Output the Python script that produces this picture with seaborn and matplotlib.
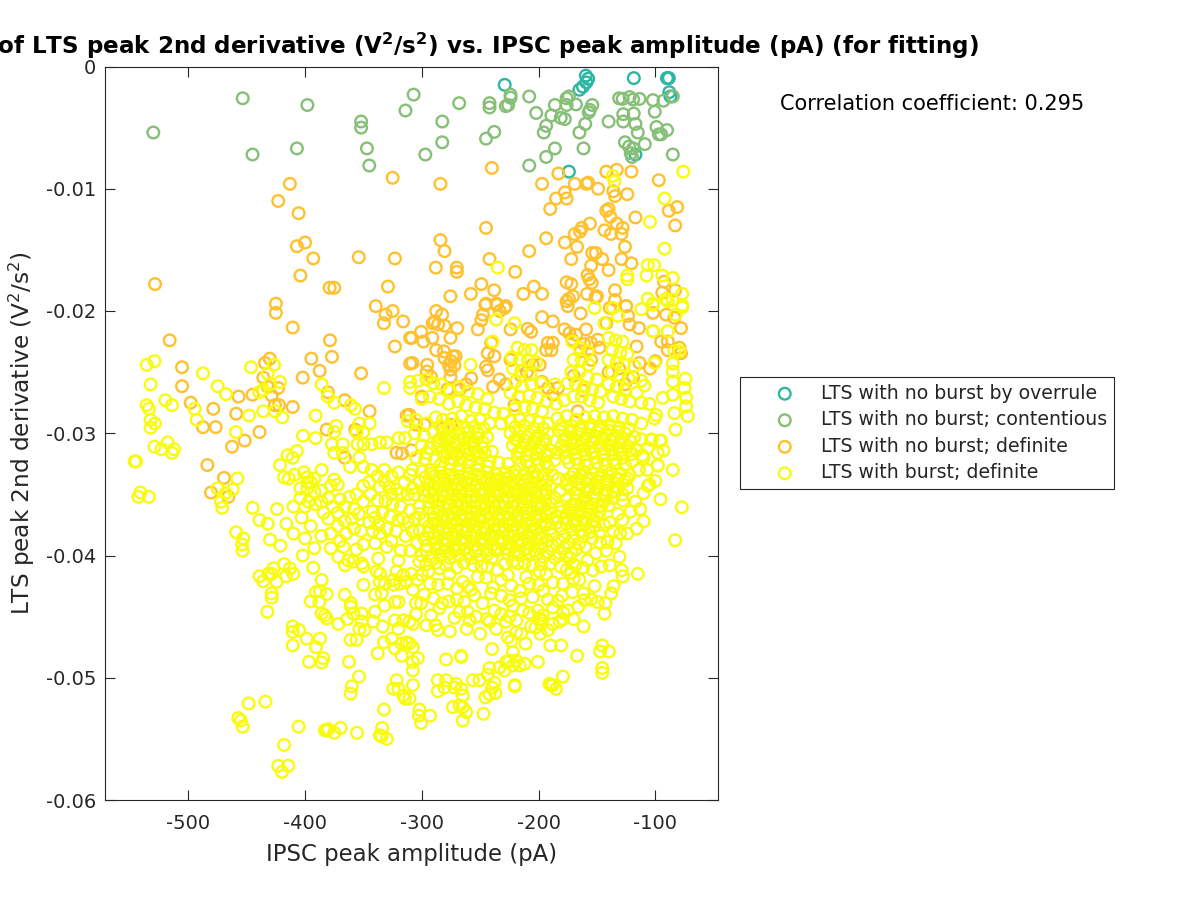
import numpy as np
import matplotlib
matplotlib.use("Agg")
import matplotlib.pyplot as plt
import seaborn as sns

# (IPSC peak amplitude in pA, LTS peak 2nd derivative in thousandths of V^2/s^2)
overrule = [(-229,-1.5),(-159.5,-.75),(-157.5,-1.0),(-159,-1.3),(-162,-1.65),(-165,-1.9),(-118.4,-.95),(-89.3,-.95),
 (-88.4,-.95),(-90,-.95),(-88,-2.1),(-87,-2.45),(-117,-7.2),(-174,-8.6)]

contentious = [(-453.4,-2.6),(-398,-3.15),(-530,-5.4),(-352,-4.5),(-352,-5.0),(-314,-3.6),(-445,-7.2),(-407,-6.7),(-347,-6.7),
 (-345,-8.1),(-307,-2.3),(-268,-3.0),(-242,-3.0),(-242,-3.35),(-224,-2.3),(-224,-2.55),(-226,-3.15),(-228,-3.25),(-208,-2.45),
 (-202,-3.8),(-282.5,-4.5),(-282.5,-6.2),(-297,-7.2),(-245,-5.9),(-238,-5.35),(-208,-8.1),(-193.5,-7.4),(-186,-6.7),(-161.5,-6.7),
 (-195.5,-5.4),(-193.5,-4.85),(-189,-4.0),(-186,-3.15),(-181,-4.2),(-177.5,-4.3),(-176,-3.15),(-176,-2.6),(-174,-2.45),(-168,-3.1),
 (-154,-3.15),(-156,-3.55),(-157,-3.75),(-160,-4.7),(-165,-5.4),(-140,-4.5),(-131,-2.6),(-128,-2.65),(-122,-2.5),(-119,-2.7),
 (-113.5,-2.65),(-127.5,-3.9),(-118.5,-3.85),(-127.5,-4.5),(-117,-4.7),(-115,-5.4),(-102,-2.75),(-100.5,-3.7),(-93,-2.8),(-85,-2.45),
 (-99,-4.95),(-97,-5.55),(-95,-5.55),(-90,-5.2),(-109,-6.35),(-126,-6.2),(-122.5,-6.55),(-119,-6.7),(-121,-7.1),(-120,-7.4),(-85,-7.2)]

no_burst = [(-325,-9.1),(-413,-9.6),(-423,-11.0),(-405.5,-12.0),(-400,-14.4),(-407,-14.7),(-393,-15.7),(-354,-15.6),(-323,-15.7),
 (-404,-17.1),(-528.5,-17.8),(-379,-18.1),(-375,-18.1),(-329,-18.0),(-425,-19.4),(-339.5,-19.6),(-284,-9.6),(-240,-8.3),(-197,-9.6),
 (-183,-8.75),(-142,-8.6),(-133,-8.45),(-120.5,-8.6),(-97,-9.3),(-169,-9.6),(-159,-9.6),(-157.5,-9.5),(-149,-10),(-136,-10.2),
 (-134.5,-10.6),(-124,-10.45),(-177.5,-10.3),(-185,-10.8),(-176,-10.8),(-190,-11.65),(-142,-11.8),(-140,-11.65),(-138.5,-12.3),
 (-88.5,-11.8),(-81.3,-11.5),(-117,-12.35),(-83,-13),(-245,-13.2),(-156,-12.85),(-163,-13.2),(-164.5,-13.5),(-169,-13.7),(-143.5,-13.4),
 (-138,-13.7),(-133,-12.85),(-128,-13.2),(-129,-13.7),(-193.5,-14.05),(-177.5,-14.4),(-167,-14.75),(-284,-14.2),(-280.5,-15.1),
 (-126,-14.75),(-208,-15.1),(-242,-15.75),(-220,-16.8),(-154,-15.25),(-151,-15.25),(-145.5,-15.75),(-129,-15.75),(-120.5,-16.1),
 (-172,-15.75),(-288,-16.45),(-270,-16.45),(-270,-16.8),(-155,-16.3),(-158,-17.05),(-156.5,-17.4),(-154.5,-17.7),(-140,-16.65),
 (-176,-17.65),(-172,-17.8),(-249,-17.8),(-204,-18),(-213,-18.6),(-197,-18.6),(-238,-18.3),(-258,-18.6),(-275.5,-18.8),(-134.5,-18.3),
 (-158.5,-18.6),(-151,-18.8),(-151,-18.9),(-150,-18.8),(-134.5,-19.1),(-125,-19.6),(-83,-18.3),(-94,-18.5),(-92.5,-17.6),(-170.5,-18.8),
 (-174,-19),(-176,-19.2),(-245,-19.4),(-236,-19.4),(-228,-19.6),(-425,-20.15),(-410.6,-21.35),(-331,-20.3),(-325,-20),(-332.5,-21),
 (-316,-20.85),(-323,-22.9),(-310,-22.2),(-310,-24.3),(-516,-22.4),(-378.7,-22.4),(-377,-23.75),(-394.6,-23.9),(-387.5,-24.9),
 (-402,-25.45),(-352,-25.1),(-505.4,-24.6),(-505.4,-26.15),(-430.3,-23.9),(-434.3,-24.25),(-435.8,-25.45),(-432,-26.2),(-423,-26.3),
 (-428.6,-26.9),(-425.8,-27.7),(-422.3,-27.7),(-410.6,-27.85),(-445,-26.85),(-457,-27),(-498,-27.5),(-478.6,-28),(-459,-28.4),
 (-487.4,-29.5),(-476.6,-29.5),(-439,-29.9),(-451.7,-30.6),(-462.6,-31.1),(-483.7,-32.6),(-469.4,-33.65),(-480.6,-34.85),(-465.7,-35.2),
 (-380.4,-26.65),(-366,-27.3),(-344.7,-28.2),(-381.5,-29.7),(-357,-29.7),(-321.6,-31.6),(-317,-31.65),(-366,-32),(-313,-28.55),
 (-287.7,-20),(-282.6,-20.3),(-289,-20.85),(-286,-21.1),(-290.6,-21),(-280.6,-21.2),(-269.7,-21.4),(-300.6,-21.7),(-291,-22.2),
 (-298.6,-22.5),(-308.6,-22.2),(-275.4,-22.2),(-287.7,-23.2),(-281,-23.3),(-280.6,-23.85),(-273.4,-23.7),(-274.9,-24.1),(-271,-23.7),
 (-276.9,-24.4),(-272,-24.45),(-275.4,-24.8),(-275.4,-25.4),(-308,-24.25),(-295.4,-24.4),(-295.7,-24.95),(-292,-25.4),(-257.7,-25.5),
 (-262,-26),(-267.7,-26.45),(-245.5,-19.5),(-235.8,-19.5),(-247.7,-20.3),(-249,-20.75),(-229,-19.75),(-233.3,-20),(-252,-21.5),
 (-224,-21.5),(-209.3,-21.45),(-206.4,-21.7),(-197,-20.5),(-187.8,-20.85),(-177.8,-21.5),(-173.5,-21.8),(-167.8,-21.95),(-171,-22.35),
 (-175,-19.6),(-164,-20.2),(-161,-22.7),(-164,-23.3),(-240.6,-22.6),(-243.5,-23.45),(-237.8,-23.7),(-245,-24.55),(-243.5,-24.85),
 (-233.5,-25.6),(-239,-26.2),(-192,-22.6),(-187.8,-22.6),(-189,-23.2),(-193.5,-23.2),(-224,-24),(-205,-24.4),(-199,-24.4),(-155,-22.6),
 (-149.3,-22.35),(-159.3,-21.5),(-142,-21),(-139,-19.75),(-125,-19.6),(-123.3,-20.4),(-122,-21.1),(-114,-21.4),(-116,-22.9),(-113.5,-24.25),
 (-119,-25.4),(-104.5,-24.7),(-100,-24.1),(-102,-20.15),(-102,-21.65),(-95,-22.5),(-89.3,-22.5),(-89.3,-23.2),(-79.3,-23),(-78,-23.45),
 (-83.7,-20.55),(-78,-21.4),(-90.7,-20.3),(-220.6,-27.7),(-187.8,-26.85),(-192,-26.3),(-183.5,-26.3),(-166.4,-28.2),(-297.7,-29.3),
 (-282,-29.6),(-275,-29.3),(-304.9,-29.3),(-309,-31.4),(-310.6,-28.5),(-140,-25),(-155,-24),(-148,-23),(-131,-24.7),(-126,-26),
 (-210,-25),(-215,-25.3),(-228,-26),(-197,-25.8),(-278,-26.4),(-300,-27),(-170,-25.3),(-162,-26.5)]

burst_sparse = [(-235,-16.45),(-76,-8.6),(-136.5,-8.95),(-135,-9.4),(-92,-10.8),(-104.5,-12.7),(-92,-14.9),(-106.5,-16.25),(-101,-16.25),
 (-124,-17.1),(-124,-17.4),(-107.5,-17.1),(-94,-17.1),(-85,-17.3),(-77,-18.6),(-106.5,-19),(-91,-19),(-85,-19.1),(-102,-19.4),(-77,-19.5),
 (-529,-24.1),(-535.7,-24.4),(-532.3,-26),(-535.7,-27.7),(-533.7,-28),(-532.3,-28.9),(-528.6,-29.2),(-532.3,-29.55),(-519.7,-27.3),(-514,-27.7),
 (-529,-31.1),(-523,-31.3),(-517.7,-30.75),(-512.3,-31.3),(-514,-31.6),(-546,-32.3),(-544.8,-32.3),(-541,-34.85),(-542.8,-35.2),(-533.7,-35.2),
 (-487.4,-25.1),(-474.9,-26.15),(-467.7,-26.8),(-494.6,-28),(-492.9,-28.9),(-446.3,-24.6),(-426.6,-24.4),(-432,-25.1),(-421.5,-25.8),(-430,-26),
 (-435.8,-26.45),(-439.2,-26.65),(-435.8,-28.2),(-448,-28.55),(-425.8,-28.2),(-419.5,-28.7),(-459.2,-29.9),(-401.8,-30.2),(-391,-30.4),(-391,-28.55),
 (-385.8,-26),(-380.4,-27),(-375,-27.5),(-360.7,-27.7),(-357.3,-28),(-332.4,-26.3),(-310,-26.3),(-353.5,-29.2),(-344.7,-29.2),(-350,-29.9),
 (-355.8,-29.9),(-373.2,-29.4),(-375,-29.9),(-377,-30.9),(-367.8,-30.9),(-375,-31.6),(-367.8,-31.6),(-355,-30.9),(-350,-30.9),(-343,-30.9),
 (-335.8,-30.75),(-330,-30.75),(-319.6,-30.4),(-314.4,-30.4),(-415,-31.8),(-410.6,-32),(-407,-31.45),(-421.5,-32.6),(-385.8,-33),(-375,-33.8),
 (-353.5,-32),(-350,-32.75),(-361.5,-32.75),(-343,-33),(-475,-34.5),(-472,-35.6),(-471,-36.1),(-468,-34.9),(-462,-34.6),(-458,-33.7),(-445,-36.1),
 (-459,-38.1),(-453,-38.6),(-454,-39.1),(-439,-37.1),(-432,-37.4),(-418,-33.6),(-414,-33.7),(-409,-33.4),(-401,-33.2),(-398,-33.6),(-395,-34),
 (-404,-34.5),(-398,-34.5),(-392,-34.8),(-404,-35.3),(-397,-35.6),(-391,-35.8),(-386,-34.7),(-378,-34.3),(-372,-34.2),(-380,-35.3),(-370,-35.4),
 (-376,-36),(-384,-36.5),(-362,-35.2),(-356,-35),(-350,-34.3),(-345,-34),(-338,-33.5),(-332,-33),(-326,-33.5),(-320,-33.2),(-336,-34.4),(-328,-34.4),
 (-322,-34.6),(-315,-34),(-310,-33.4),(-312,-35),(-338,-35.5),(-331,-35.5),(-325,-35.8),(-318,-36),(-310,-36.3),(-342,-36.4),(-334,-36.5),(-327,-36.8),
 (-320,-37.1),(-312,-37.3),(-345,-37.3),(-337,-37.5),(-330,-37.8),(-322,-38),(-314,-38.4),(-354,-36.6),(-360,-37),(-366,-37.2),(-372,-37.6),(-358,-37.8),
 (-352,-38),(-365,-38.2),(-378,-38.2),(-386,-38.4),(-395,-37.6),(-403,-36.9),(-410,-36),(-416,-37.4),(-410,-38.2),(-400,-38.6),(-424,-36.2),(-430,-38.7),
 (-421,-39.2),(-392,-39.4),(-378,-39.4),(-367,-39.3),(-350,-39.1),(-340,-39),(-330,-39.3),(-318,-39.6),(-310,-39.6),
 (-453.5,-39.6),(-439,-41.7),(-435.8,-42.1),(-431.5,-41.5),(-427,-41.05),(-428.6,-41.5),(-424.3,-42.15),(-418,-40.7),(-416.3,-41.7),(-413,-41.05),(-410,-41.5),
 (-428.6,-43.1),(-428.6,-43.45),(-432.3,-44.6),(-393,-41),(-402,-40),(-385.8,-42),(-390.7,-43),(-387.2,-42.9),(-381.5,-43.15),(-395.2,-43.75),(-387.8,-43.8),
 (-385.8,-44.75),(-383,-44.9),(-381.5,-45.15),(-366,-43.2),(-360.7,-43.9),(-360.7,-44.2),(-350,-42.4),(-371.5,-45.6),(-363.8,-45.2),(-358.7,-44.75),(-351.5,-44.75),
 (-351.5,-45.4),(-340,-44.6),(-341.5,-45.4),(-333.5,-45.8),(-353.5,-46),(-349,-46.1),(-361,-46.9),(-355.8,-46.9),(-332.4,-47.1),(-337.8,-48),(-387.2,-46.8),
 (-398.6,-46.8),(-390.7,-47.5),(-384.4,-48.4),(-385.8,-48.75),(-396.7,-48.7),(-362.4,-48.7),(-410.6,-45.8),(-410.6,-46.25),(-405.2,-46.1),(-410.6,-47.35),
 (-353.8,-49.9),(-360,-50.7),(-361,-51.3),(-321.6,-50.2),(-320,-50.9),(-324.4,-50.9),(-315.8,-51.45),(-314.4,-51.7),(-332.4,-52.6),(-448.3,-52.1),(-434,-51.95),
 (-457.2,-53.3),(-455,-53.5),(-453.5,-54),(-405.5,-54),(-381.5,-54.3),(-383,-54.3),(-380,-54.2),(-375,-54.5),(-369.5,-54.1),(-355.5,-54.5),(-334,-54.1),(-336,-54.7),
 (-334.4,-54.8),(-330,-55),(-418,-55.5),(-423,-57.2),(-414.4,-57.2),(-419.8,-57.7),(-371.5,-40.1),(-365.8,-40.8),(-363,-40.4),(-358.7,-40.5),(-350,-40.9),(-351.5,-40.65),
 (-337.3,-40.25),(-338.7,-41.3),(-335.8,-41.5),(-320,-40.4),(-321.6,-41.3),(-324.4,-42),(-318.7,-42.3),(-315.8,-41.6),(-313,-42.15),(-324,-42.4),(-336,-42.15),
 (-331.6,-42.3),(-340,-43.2),(-334.4,-43.1),(-332,-44.1),(-323,-43.8),(-320,-43.8),(-323,-45.3),(-315.8,-45.3),(-320,-46),(-325.8,-46.8),(-317.3,-47.2),(-323,-47.6),
 (-313,-47.1),(-317.3,-48.2),(-310.6,-47.2),(-307.7,-47.5),(-303.4,-48.4),(-307.7,-48.7),(-307.7,-49.4),(-307.7,-50.6),(-310.6,-51.7),(-307.7,-45.6),(-310.6,-45.4),
 (-304.9,-43.9),(-300.6,-43.9),(-307.7,-42.8),(-309,-41.5),(-292,-44.9),(-288.3,-45.7),(-286.3,-46.1),(-282.6,-43.9),(-276.9,-43.75),(-284.9,-44.3),(-272,-45.1),
 (-267.7,-44.6),(-260.6,-44.6),(-259,-45.3),(-261.5,-46),(-253.5,-45),(-244.3,-45.2),(-236.3,-46),(-279.2,-48.5),(-266.3,-48.3),(-266.3,-48.2),(-239.8,-47.65),
 (-286.3,-50.2),(-279.2,-50.2),(-286.3,-51.1),(-280.6,-50.8),(-270.6,-50.5),(-266.3,-50.9),(-264.9,-51.45),(-272,-50.8),(-256.3,-50.2),(-250.6,-50.2),(-242,-49.2),
 (-243.5,-49.75),(-237.8,-50.4),(-239.8,-50.8),(-245.5,-51.6),(-242,-51.35),(-237,-51.25),(-220.4,-50.6),(-220.4,-50.7),(-247.2,-52.95),(-273.4,-52.4),(-267.7,-52.25),
 (-264.9,-52.4),(-262,-52.8),(-264.9,-53.5),(-302,-52.6),(-302.6,-53.1),(-292.9,-53.1),(-300.6,-53.7),(-233.5,-49.15),(-227.8,-48.7),(-229.2,-49.4),(-219.2,-48.6),
 (-216.3,-49),(-222,-49),(-225,-48.6),(-212,-48.85),(-200.6,-48.7),(-222,-47.9),(-226.3,-46.7),(-223.5,-47),(-215,-46.4),(-211.2,-47.2),(-219.2,-46.3),(-189.8,-47.35),
 (-180.7,-47.35),(-167,-48.2),(-179.2,-49.9),(-187.8,-50.6),(-189.2,-50.6),(-185,-50.9),(-190.7,-50.5),(-145.5,-47.35),(-147.2,-47.85),(-139.8,-47.85),(-145.5,-49.2),
 (-145.5,-49.6),(-161.5,-45.8),(-115,-41.5),(-130.7,-40.1),(-128.7,-41.2),(-127.8,-41.7),(-135.8,-42.5),(-137.8,-43.1),(-143.5,-44.75),(-142.7,-43.9),(-149.3,-43.8),
 (-155,-43.6),(-160.7,-43.65),(-161.5,-43.1),(-152,-42.5),(-162,-41),(-165,-42),(-168.7,-40.8),(-153.5,-41.2),(-146.4,-40.9),(-139,-40.8),(-142,-39.6),(-179.2,-45.2),
 (-182,-45.4),(-187.8,-45.6),(-178.7,-44.7),(-183.5,-43.7),(-187.8,-44.25),(-197.8,-45.2),(-196.4,-44.9),(-200.6,-44.5),(-199.2,-45.2),(-197.8,-45.6),(-202.6,-45.9),
 (-198.6,-46.4),(-206.4,-45.8),(-224.9,-43.65),(-222,-44.1),(-213.5,-44.5),(-237.8,-44.5),(-240.6,-43.1),(-254.9,-43.25),(-263.5,-43.8),(-257.7,-42.8),(-239,-42.6),
 (-223.5,-42.45),(-207.8,-42.3),(-210.6,-41.75),(-193.5,-41.5),(-187.8,-42.2),(-179.2,-42.3),(-292.9,-42.3),(-294.3,-41.3),(-284.9,-41.05),(-276.3,-41.5),(-277.8,-42.3),
 (-252,-41.75),(-260.6,-42.55),(-264.9,-42.15),(-226.3,-41.6),(-217.8,-40.65),(-199.2,-41.3),(-224.9,-45),(-228,-45.4),(-219,-45.3),(-242,-45.4),(-205,-43.4),(-192,-43.6),
 (-171,-43),(-175,-44.5),(-170,-41.9),(-300,-41.6),(-302,-40.5),(-270,-41),(-244,-40.9),(-235,-41.2),(-229,-40.7),(-205,-40.8),(-181,-40.9),(-173,-40.2),(-158,-40.4),(-151,-39.8),
 (-134,-39),(-130,-38.2),(-128,-37.1),(-136,-38),(-141,-38.9),(-147,-39),(-139,-37.3),(-132,-36.6),(-121,-36.4),(-117,-35.6),(-113,-36.2),(-110,-37.2),(-116,-37.8),(-124,-38.2),
 (-105,-34.2),(-100,-33.9),(-96,-30.6),(-93,-31.4),(-103,-30.5),(-98,-32.6),(-110,-34.9),(-107,-33),(-111,-31.8),
 (-83.6,-23.3),(-79.3,-23.3),(-85,-24.3),(-85,-24.95),(-74.2,-25.55),(-85,-25.75),(-75,-26.3),(-85,-26.85),(-73.6,-27.1),(-93.6,-27.1),(-109.3,-26.1),(-73.6,-27.8),(-83.6,-28.35),
 (-72.2,-28.6),(-82.7,-29.7),(-99.3,-28.5),(-100.7,-28.8),(-103.6,-30.55),(-95,-30.6),(-97.9,-31.6),(-106.4,-31.2),(-85,-33),(-97.9,-32.65),(-106.4,-34.3),(-95.6,-35.4),(-77.3,-36.05),
 (-83,-38.75),(-236.3,-20.7),(-220.6,-21),(-239.4,-22.5),(-258.3,-24.4),(-152,-19.75),(-136.4,-19.75),(-132,-20.4),(-143.5,-21),(-112,-19.85),(-102,-19.5),(-89.3,-19.2),(-77,-19.7),
 (-82.6,-20.3),(-102,-21.65),(-89.3,-21.65),(-100.7,-24.25)]

burst_clusters = [(-140,-22.2),(-134,-22.4),(-128,-22.5),(-137,-23.2),(-130,-23.4),(-124,-23.5),(-140,-24),(-133,-24.2),(-127,-24.4),(-118,-24.5),(-137,-25),(-130,-25.3),(-123,-25.5),(-112,-25.7),
 (-140,-26),(-133,-26.2),(-126,-26.5),(-116,-26.7),(-136,-27),(-129,-27.2),(-122,-27.4),(-112,-27.5),(-105,-27.6),(-171,-22.5),(-165,-23),(-158,-23.3),(-170,-24),(-163,-24),(-157,-24.4),
 (-172,-25),(-165,-25),(-158,-25.4),(-150,-25.6),(-175,-25.9),(-168,-26),(-161,-26.2),(-154,-26.4),(-147,-26.6),(-170,-27),(-163,-27),(-156,-27.3),(-149,-27.5),(-178,-27.3),(-186,-26),
 (-218,-23),(-212,-23.2),(-206,-23.2),(-223,-23.8),(-216,-24),(-209,-24),(-202,-24.2),(-222,-24.7),(-215,-24.9),(-207,-25.2),(-220,-25.8),(-214,-26.2),(-206,-26),(-198,-25.9),(-224,-26.7),
 (-217,-27),(-208,-26.9),(-201,-27.1),(-193,-27.4),(-185,-27.6),(-220,-28),(-212,-27.9),(-205,-28),(-197,-28.2),(-310,-25.8),(-303,-25.7),(-296,-25.6),(-290,-25.9),(-283,-26),(-276,-26.5),
 (-268,-26.2),(-260,-26.6),(-252,-26.8),(-244,-27.2),(-300,-27.2),(-293,-27),(-285,-27.2),(-277,-27.6),(-269,-27.4),(-262,-27.7),(-254,-27.9),(-246,-28),(-238,-28.3),(-230,-28.4)]

burst_band_upper = [(-312,-29),(-305,-28.9),(-296,-29.2),(-288,-28.7),(-282,-28.9),(-274,-28.8),(-266,-28.6),(-258,-29),(-250,-28.9),(-242,-29.2),(-232,-29.2),(-224,-29),(-216,-28.9),(-208,-29),(-200,-29.1),
 (-192,-29.2),(-184,-28.8),(-176,-28.6),(-168,-28.9),(-160,-28.7),(-152,-28.6),(-144,-28.7),(-136,-28.6),(-128,-28.8),(-120,-28.9),(-112,-29.2),(-306,-30),(-298,-30.2),(-290,-29.9),(-282,-30),
 (-275,-30.2),(-268,-30),(-260,-29.9),(-252,-30),(-244,-30.3),(-224,-30),(-216,-29.9),(-208,-30.1),(-200,-30.2),(-192,-30),(-182,-29.8),(-174,-29.9),(-166,-30),(-158,-30.1),(-150,-29.9),
 (-142,-30),(-134,-30.2),(-126,-30),(-118,-30.3),(-112,-30.5),(-300,-31),(-293,-31.2),(-286,-31),(-278,-31.1),(-271,-31),(-264,-31.2),(-256,-31),(-248,-31.2),(-240,-31.5),(-222,-31),(-214,-31.2),
 (-206,-31),(-198,-31.1),(-190,-31.4),(-180,-31),(-172,-30.9),(-164,-31.1),(-156,-31.2),(-148,-31),(-140,-31),(-132,-31.2),(-124,-31.1),(-116,-31.4),(-110,-32),(-305,-32),(-297,-32.1),(-289,-32.2),
 (-281,-31.9),(-273,-32.1),(-266,-32),(-258,-32.2),(-250,-32),(-242,-32.3),(-234,-32.4),(-226,-32.5),(-218,-32),(-210,-32.3),(-202,-32.1),(-194,-32.4),(-186,-32.2),(-176,-32),(-168,-32.1),(-160,-32.3),
 (-152,-32),(-144,-32.2),(-136,-32.2),(-128,-32),(-120,-32.3),(-114,-33),
 (-284,-29.4),(-277,-29.5),(-270,-29.3),(-263,-29.5),(-255,-29.5),(-247,-29.6),(-220,-29.5),(-212,-29.4),(-204,-29.6),(-196,-29.6),(-180,-29.3),(-172,-29.4),(-163,-29.4),(-155,-29.3),(-147,-29.4),
 (-139,-29.3),(-131,-29.5),(-123,-29.6),(-286,-30.6),(-279,-30.5),(-272,-30.7),(-264,-30.5),(-256,-30.6),(-248,-30.7),(-220,-30.5),(-212,-30.6),(-204,-30.7),(-196,-30.5),(-178,-30.5),(-170,-30.4),
 (-162,-30.6),(-154,-30.6),(-146,-30.5),(-138,-30.6),(-130,-30.7),(-122,-30.6),(-296,-31.6),(-282,-31.5),(-275,-31.6),(-268,-31.5),(-260,-31.7),(-252,-31.6),(-218,-31.6),(-210,-31.7),(-202,-31.6),
 (-194,-31.8),(-184,-31.6),(-176,-31.5),(-168,-31.6),(-160,-31.7),(-152,-31.6),(-144,-31.6),(-136,-31.7),(-128,-31.6),(-120,-31.7)]

burst_band_core = [(-308,-33),(-300,-33.1),(-292,-33),(-284,-33.2),(-276,-33),(-268,-33.1),(-260,-33.3),(-252,-33),(-244,-33.2),(-236,-33.4),(-228,-33.2),(-220,-33.1),(-212,-33.3),(-204,-33.2),(-196,-33.4),(-188,-33.4),
 (-170,-33.3),(-162,-33.1),(-154,-33.3),(-146,-33.4),(-138,-33.2),(-130,-33.3),(-122,-33.4),(-302,-34),(-294,-34.2),(-286,-34),(-278,-34.1),(-270,-34.2),(-262,-34),(-254,-34.2),(-246,-34),(-238,-34.2),
 (-230,-34),(-222,-34.1),(-214,-34.3),(-206,-34),(-198,-34.2),(-190,-34.4),(-172,-34.4),(-164,-34.2),(-156,-34.4),(-148,-34.4),(-140,-34.2),(-132,-34.4),(-124,-34.5),(-306,-35),(-298,-35.1),(-290,-35),
 (-282,-35.2),(-274,-35),(-266,-35.1),(-258,-35.2),(-250,-35),(-242,-35.1),(-234,-35),(-226,-35.2),(-218,-35),(-210,-35.1),(-202,-35.2),(-194,-35),(-186,-35.3),(-176,-35.4),(-168,-35.5),(-160,-35.3),
 (-152,-35.4),(-144,-35.5),(-136,-35.3),(-128,-35.5),(-302,-36),(-294,-36.1),(-286,-36),(-278,-36.2),(-270,-36),(-262,-36.1),(-254,-36),(-246,-36.2),(-238,-36),(-230,-36.1),(-222,-36),(-214,-36.2),
 (-206,-36),(-198,-36.1),(-190,-36.2),(-180,-36.4),(-172,-36.5),(-164,-36.4),(-156,-36.6),(-148,-36.5),(-306,-37),(-298,-37.1),(-290,-37),(-282,-37.2),(-274,-37),(-266,-37.1),(-258,-37),(-250,-37.2),
 (-242,-37),(-234,-37.1),(-226,-37),(-218,-37.2),(-210,-37),(-202,-37.1),(-194,-37.3),(-184,-37.3),(-176,-37.4),(-168,-37.5),(-160,-37.4),(-152,-37.6),(-144,-37.5),(-302,-38),(-294,-38.1),(-286,-38),
 (-278,-38.2),(-270,-38),(-262,-38.1),(-254,-38),(-246,-38.2),(-238,-38),(-230,-38.1),(-222,-38),(-214,-38.2),(-206,-38),(-198,-38.2),(-188,-38.3),(-178,-38.4),(-170,-38.5),(-162,-38.4),(-154,-38.6),
 (-304,-39),(-296,-39.2),(-288,-39),(-280,-39.1),(-272,-39.2),(-264,-39),(-256,-39.2),(-248,-39),(-240,-39.2),(-232,-39),(-224,-39.1),(-216,-39.2),(-208,-39),(-198,-39.3),(-188,-39.2),(-178,-39.4),
 (-168,-39.5),(-160,-39.3),(-300,-40),(-292,-40.1),(-284,-40),(-276,-40.2),(-268,-40),(-258,-40.2),(-250,-40),(-240,-40.2),(-226,-39.9),(-216,-40),(-208,-39.9),(-196,-40.1),(-186,-40.2),(-176,-40)]

burst_band_fill = [(-297,-33.6),(-289,-33.5),(-281,-33.7),(-273,-33.6),(-265,-33.5),(-257,-33.8),(-249,-33.6),(-241,-33.7),(-233,-33.7),(-225,-33.6),(-217,-33.8),(-209,-33.7),(-201,-33.6),(-193,-33.9),
 (-183,-33.7),(-176,-33.8),(-166,-33.7),(-158,-33.8),(-150,-33.9),(-142,-33.8),(-134,-33.7),(-126,-33.9),(-298,-34.6),(-290,-34.5),(-282,-34.7),(-274,-34.6),(-266,-34.5),(-258,-34.7),(-250,-34.6),
 (-242,-34.5),(-234,-34.6),(-226,-34.7),(-218,-34.6),(-210,-34.5),(-202,-34.7),(-194,-34.6),(-182,-34.8),(-168,-34.9),(-160,-34.8),(-152,-34.9),(-144,-34.9),(-136,-34.8),(-128,-35),(-294,-35.6),
 (-286,-35.5),(-278,-35.7),(-270,-35.6),(-262,-35.5),(-254,-35.6),(-246,-35.7),(-238,-35.5),(-230,-35.6),(-222,-35.7),(-214,-35.6),(-206,-35.5),(-198,-35.7),(-190,-35.7),(-181,-35.9),(-172,-35.9),
 (-164,-35.9),(-156,-36),(-148,-36),(-140,-35.9),(-302,-36.6),(-290,-36.5),(-282,-36.7),(-274,-36.5),(-266,-36.6),(-258,-36.5),(-250,-36.7),(-242,-36.5),(-234,-36.6),(-226,-36.5),(-218,-36.7),
 (-210,-36.5),(-202,-36.6),(-194,-36.7),(-185,-36.8),(-176,-36.9),(-168,-37),(-160,-36.9),(-152,-37.1),(-294,-37.6),(-286,-37.5),(-278,-37.7),(-270,-37.5),(-262,-37.6),(-254,-37.5),(-246,-37.7),
 (-238,-37.5),(-230,-37.6),(-222,-37.5),(-214,-37.7),(-206,-37.5),(-198,-37.6),(-190,-37.8),(-181,-37.8),(-172,-37.9),(-164,-38),(-156,-38.1),(-148,-38.1),(-298,-38.6),(-290,-38.5),(-282,-38.7),
 (-274,-38.5),(-266,-38.6),(-258,-38.5),(-250,-38.7),(-242,-38.5),(-234,-38.6),(-226,-38.5),(-218,-38.7),(-210,-38.5),(-202,-38.7),(-193,-38.8),(-183,-38.8),(-174,-39),(-165,-39),(-296,-39.6),
 (-288,-39.5),(-280,-39.7),(-272,-39.6),(-264,-39.5),(-254,-39.7),(-244,-39.6),(-236,-39.6),(-228,-39.4),(-220,-39.6),(-212,-39.5),(-203,-39.6),(-192,-39.7),(-182,-39.8),(-172,-39.8),
 (-296,-40.7),(-288,-40.6),(-279,-40.8),(-264,-40.6),(-256,-40.8),(-249,-40.9),(-222,-40.5),(-212,-40.6),(-198,-40.7),(-190,-40.7),(-176,-41.2),(-304,-42),(-286,-42.4),(-270,-42.7),(-245,-41.8),
 (-232,-42),(-216,-42.9),(-200,-42.4),(-172,-41.4),(-298,-43.2),(-290,-43.5),(-270,-43.6),(-248,-43.9),(-232,-43.3),(-215,-43.5),(-196,-42.9),(-180,-43.3),(-166,-44.2),(-305,-44.8),(-296,-45.7),
 (-276,-46.2),(-250,-46.4),(-232,-44.8),(-208,-44.7),(-192,-46.1),(-170,-45.2),(-340,-36.9),(-326,-35),(-318,-34.9),(-308,-34.5),(-332,-33.9),(-344,-35),(-350,-35.6),(-366,-36),(-372,-36.5),
 (-358,-36.2),(-336,-38.2),(-326,-38.8),(-316,-37),(-308,-38),(-398,-34),(-392,-33.7),(-386,-35.6),(-400,-36),(-380,-37),(-370,-38.8),(-356,-39.5),(-342,-38)]

burst_solid = [(-292,-33.3),(-284,-33.8),(-276,-33.4),(-268,-33.8),(-260,-33.6),(-252,-33.4),(-244,-33.8),(-236,-33.9),(-228,-33.7),(-220,-33.5),(-212,-33.9),(-204,-33.6),
 (-294,-34.8),(-286,-34.4),(-278,-34.8),(-270,-34.5),(-262,-34.8),(-254,-34.4),(-246,-34.7),(-238,-34.8),(-230,-34.5),(-222,-34.8),(-214,-34.8),(-206,-34.6),(-198,-34.8),
 (-290,-35.4),(-282,-35.9),(-274,-35.4),(-266,-35.8),(-258,-35.5),(-250,-35.8),(-242,-35.5),(-234,-35.8),(-226,-35.4),(-218,-35.8),(-210,-35.5),(-202,-35.8),(-194,-35.5),
 (-286,-36.4),(-278,-36.8),(-270,-36.4),(-262,-36.8),(-254,-36.4),(-246,-36.8),(-238,-36.4),(-230,-36.8),(-222,-36.4),(-214,-36.8),(-206,-36.4),(-198,-36.8),(-190,-36.5),
 (-290,-37.4),(-282,-37.8),(-274,-37.4),(-266,-37.8),(-258,-37.4),(-250,-37.8),(-242,-37.4),(-234,-37.8),(-226,-37.4),(-218,-37.8),(-210,-37.4),(-202,-37.8),(-194,-37.5),
 (-286,-38.4),(-278,-38.8),(-270,-38.4),(-262,-38.8),(-254,-38.4),(-246,-38.8),(-238,-38.4),(-230,-38.8),(-222,-38.4),(-214,-38.8),(-206,-38.4),(-198,-38.6),
 (-284,-39.4),(-276,-39.8),(-268,-39.4),(-260,-39.8),(-252,-39.4),(-244,-39.9),(-236,-39.4),(-226,-39.5),(-218,-39.8),(-210,-39.4),(-202,-39.9),
 (-180,-29.6),(-172,-29.8),(-164,-29.7),(-156,-29.6),(-148,-29.7),(-140,-29.8),(-132,-29.9),(-176,-30.4),(-168,-30.7),(-160,-30.4),(-152,-30.3),(-144,-30.4),(-136,-30.4),(-128,-30.4),
 (-178,-31.4),(-170,-31.3),(-162,-31.4),(-154,-31.5),(-146,-31.3),(-138,-31.4),(-130,-31.4),(-122,-31.4),(-174,-32.4),(-166,-32.5),(-158,-32.6),(-150,-32.4),(-142,-32.6),(-134,-32.5),(-126,-32.6),
 (-172,-33.6),(-164,-33.5),(-156,-33.7),(-148,-33.6),(-140,-33.5),(-132,-33.7),(-124,-33.7),(-176,-34.2),(-166,-34.6),(-158,-34.6),(-150,-34.6),(-142,-34.7),(-134,-34.7),
 (-284,-30.4),(-276,-30.4),(-268,-30.5),(-260,-30.4),(-252,-30.4),(-278,-31.6),(-270,-31.7),(-262,-31.5),(-254,-31.5),(-246,-31.6),(-284,-32.6),(-276,-32.5),(-268,-32.6),(-260,-32.7),(-252,-32.6),(-244,-32.7),
 (-218,-30.5),(-210,-30.3),(-202,-30.4),(-194,-30.6),(-216,-31.5),(-208,-31.4),(-200,-31.4),(-192,-31.7),(-216,-32.6),(-208,-32.7),(-200,-32.6),(-192,-32.8),
 (-170,-35.8),(-162,-35.6),(-154,-35.8),(-146,-35.9),(-174,-36.2),(-166,-36.7),(-158,-36.3),(-150,-36.8),(-178,-37),(-170,-37.2),(-162,-37.1),(-154,-37.2)]

labels = ["LTS with no burst by overrule", "LTS with no burst; contentious",
          "LTS with no burst; definite", "LTS with burst; definite"]
colors = ["#2DB7A3", "#86BF76", "#FFC12E", "#F9FB0E"]
burst = burst_sparse + burst_clusters + burst_band_upper + burst_band_core + burst_band_fill + burst_solid
groups = [overrule, contentious, no_burst, burst]

sns.set_theme(style="white")
plt.rcParams["font.family"] = ["DejaVu Sans"]
plt.rcParams["mathtext.fontset"] = "dejavusans"
plt.rcParams["axes.unicode_minus"] = False

fig = plt.figure(figsize=(12, 9), dpi=100)
ax = fig.add_axes([104.5/1200, 1-800/900, (718-104.5)/1200, (800-66.5)/900])
for pts, lab, col in zip(groups, labels, colors):
    a = np.array(pts)
    sns.scatterplot(x=a[:, 0], y=a[:, 1]/1000, ax=ax, s=70, facecolor="none", edgecolor=col,
                    linewidth=1.7, label=lab)

ax.set_xlim(-571.8, -46.3)
ax.set_ylim(-0.06, 0)
ax.set_xticks([-500, -400, -300, -200, -100])
ax.set_yticks([-0.06, -0.05, -0.04, -0.03, -0.02, -0.01, 0])
ax.set_yticklabels(["-0.06", "-0.05", "-0.04", "-0.03", "-0.02", "-0.01", "0"])
ax.tick_params(direction="in", length=7, width=0.8, color="#262626", labelcolor="#262626",
               labelsize=14, top=True, right=True, bottom=True, left=True, pad=6)
ax.tick_params(axis="x", pad=10)
for s in ax.spines.values():
    s.set_visible(True); s.set_color("#262626"); s.set_linewidth(0.8)

ax.set_xlabel("IPSC peak amplitude (pA)", fontsize=16.4, color="#262626", labelpad=7)
ax.set_ylabel(r"LTS peak 2nd derivative (V$^2$/s$^2$)", fontsize=16.7, color="#262626", labelpad=6)
ax.set_title(r"Correlation of LTS peak 2nd derivative ($\mathbf{V^2/s^2}$) vs. IPSC peak amplitude (pA) (for fitting)",
             fontsize=16.55, fontweight="bold", color="black", pad=9)
fig.text(780/1200, 1-104/900, "Correlation coefficient: 0.295", fontsize=15, va="center", color="black")

leg = ax.legend(loc="center left", bbox_to_anchor=(740/1200, 1-433/900), bbox_transform=fig.transFigure,
                fontsize=13.6, frameon=True, fancybox=False, edgecolor="#262626", framealpha=1,
                borderaxespad=0, handletextpad=-0.1, labelspacing=0.40, borderpad=0.37, handlelength=4.0)
leg.get_frame().set_linewidth(0.8)

fig.savefig("out.png", dpi=100)
